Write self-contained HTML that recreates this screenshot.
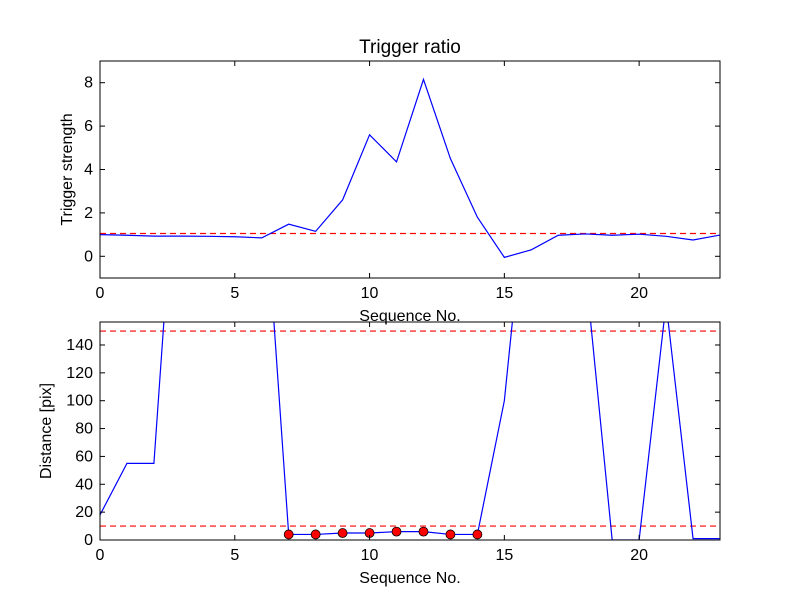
<!DOCTYPE html>
<html><head><meta charset="utf-8"><style>
body{margin:0;background:#fff}
svg text{font-family:"Liberation Sans",sans-serif;fill:#000}
</style></head><body>
<svg id="chart" width="800" height="600" xmlns="http://www.w3.org/2000/svg">
<rect width="800" height="600" fill="#fff"/>
<defs>
<clipPath id="c1"><rect x="100" y="61" width="620" height="217"/></clipPath>
<clipPath id="c2"><rect x="100" y="322" width="620" height="218"/></clipPath>
</defs>
<g id="g"></g>
</svg>
<script>
const seq = [0,1,2,3,4,5,6,7,8,9,10,11,12,13,14,15,16,17,18,19,20,21,22,23];
const ratio = [1.0,0.97,0.93,0.93,0.92,0.9,0.85,1.48,1.15,2.6,5.6,4.35,8.15,4.5,1.8,-0.05,0.3,0.97,1.03,0.97,1.02,0.92,0.75,0.98];
const ratioThreshold = [1.05];
const dist = [18,55,55,330,300,300,282,4,4,5,5,6,6,4,4,100,290,300,196,0,0,170,1,1];
const distThresholds = [150,10];
const markIdx = [7,8,9,10,11,12,13,14];
const xTicks = [0,5,10,15,20];
const yTicks1 = [0,2,4,6,8];
const yTicks2 = [0,20,40,60,80,100,120,140];

const NS="http://www.w3.org/2000/svg", g=document.getElementById('g');
function el(t,a,txt){const e=document.createElementNS(NS,t);for(const k in a)e.setAttribute(k,a[k]);if(txt!==undefined)e.textContent=txt;g.appendChild(e);return e;}
const X=v=>100+v*620/23;
function panel(top,h,ymin,ymax,yTicks,ser,thr,clip,ylabel,name,marks){
  const Y=v=>top+h-(v-ymin)*h/(ymax-ymin);
  thr.forEach(t=>{const l=el('line',{x1:100,x2:720,y1:Y(t),y2:Y(t),stroke:'#f00','stroke-width':1.2,'stroke-dasharray':'6,4','clip-path':`url(#${clip})`});
    
    });
  const p=el('polyline',{points:ser.map((v,i)=>X(seq[i])+','+Y(v)).join(' '),fill:'none',stroke:'#00f','stroke-width':1.2,'clip-path':`url(#${clip})`});
  
  
  if(marks)marks.forEach(i=>{const c=el('circle',{cx:X(seq[i]),cy:Y(ser[i]),r:4.5,fill:'#f00',stroke:'#000','stroke-width':0.8});
    
    });
  const f=el('rect',{x:100,y:top,width:620,height:h,fill:'none',stroke:'#000','stroke-width':1});
  
  
  xTicks.forEach(t=>{el('line',{x1:X(t),x2:X(t),y1:top+h,y2:top+h-5,stroke:'#000'});el('line',{x1:X(t),x2:X(t),y1:top,y2:top+5,stroke:'#000'});
    const tx=el('text',{x:X(t),y:top+h+20,'text-anchor':'middle','font-size':16},t);
    
    });
  yTicks.forEach(t=>{el('line',{x1:100,x2:105,y1:Y(t),y2:Y(t),stroke:'#000'});el('line',{x1:715,x2:720,y1:Y(t),y2:Y(t),stroke:'#000'});
    const tx=el('text',{x:93,y:Y(t)+5,'text-anchor':'end','font-size':16},t);
    
    });
  const xl=el('text',{x:410,y:top+h+43,'text-anchor':'middle','font-size':16},'Sequence No.');
  
  
  const yl=el('text',{x:0,y:0,'text-anchor':'middle','font-size':16,transform:`translate(${name==='top'?72:51},${top+h/2}) rotate(-90)`},ylabel);
  
  
}
panel(61,217,-1,9,yTicks1,ratio,ratioThreshold,'c1','Trigger strength','top',null);
panel(322,218,0,156.5,yTicks2,dist,distThresholds,'c2','Distance [pix]','bottom',markIdx);
const t=el('text',{x:410,y:53,'text-anchor':'middle','font-size':19},'Trigger ratio');


</script>
</body></html>
